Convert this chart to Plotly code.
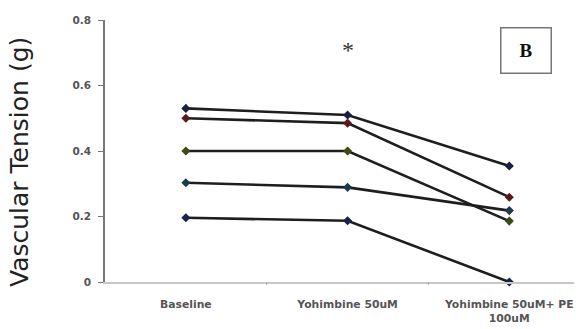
import plotly.graph_objects as go

categories = ["Baseline", "Yohimbine 50uM", "Yohimbine 50uM+ PE<br>100uM"]
series_values = [
    [0.530, 0.510, 0.354],
    [0.500, 0.485, 0.259],
    [0.400, 0.400, 0.186],
    [0.303, 0.289, 0.218],
    [0.196, 0.187, 0.000],
]
marker_colors = ["#1a2140", "#5a1a1a", "#3d4a14", "#1c3a48", "#18224a"]
y_ticks = [0, 0.2, 0.4, 0.6, 0.8]
y_tick_text = ["0", "0.2", "0.4", "0.6", "0.8"]

FONT = "DejaVu Sans, Liberation Sans, sans-serif"

fig = go.Figure()
for vals, col in zip(series_values, marker_colors):
    fig.add_trace(go.Scatter(
        x=list(range(len(categories))), y=vals, mode="lines+markers",
        line=dict(color="#1e1e1e", width=2.6),
        marker=dict(symbol="diamond", size=7, color=col, line=dict(width=0)),
        showlegend=False, cliponaxis=False,
    ))

fig.update_layout(
    width=576, height=329,
    margin=dict(l=105, r=2, t=20, b=47),
    paper_bgcolor="white", plot_bgcolor="white",
    font=dict(family=FONT, color="#444"),
    xaxis=dict(
        range=[-0.5, 2.4], tickmode="array", tickvals=[0, 1, 2], ticktext=categories,
        ticks="outside", ticklen=11, tickcolor="rgba(0,0,0,0)",
        ticklabeloverflow="allow", automargin=False,
        showgrid=False, zeroline=False,
        showline=True, linecolor="#c8c8c8", linewidth=2,
        tickfont=dict(size=10.8, color="#555", family=FONT, weight="bold"),
    ),
    yaxis=dict(
        range=[0, 0.8], tickmode="array", tickvals=y_ticks, ticktext=y_tick_text,
        ticks="outside", ticklen=5, tickcolor="#777", tickwidth=1.2,
        ticklabelstandoff=5, automargin=False,
        showgrid=False, zeroline=False,
        showline=True, linecolor="#777", linewidth=1.5,
        tickfont=dict(size=10.5, color="#555", family=FONT, weight="bold"),
    ),
)

# boundary tick marks between categories on the x axis
for xb in [0.5, 1.5]:
    fig.add_shape(type="line", xref="x", yref="paper", x0=xb, x1=xb, y0=0, y1=-0.012,
                  line=dict(color="#aaa", width=1))

fig.add_annotation(
    text="Vascular Tension (g)", xref="paper", yref="paper",
    x=(19 - 105) / 469, y=(282 - 162) / 262, textangle=-90, showarrow=False,
    font=dict(size=25, color="#222", family=FONT),
    xanchor="center", yanchor="middle",
)
fig.add_annotation(
    text="*", xref="x", yref="paper", x=1, y=(282 - 50) / 262, showarrow=False,
    font=dict(size=24, color="#333", family="Liberation Serif, serif"),
    xanchor="center", yanchor="middle",
)
fig.add_annotation(
    text="<b>B</b>", xref="paper", yref="paper",
    x=(526 - 105) / 469, y=(282 - 50.5) / 262, showarrow=False,
    font=dict(size=19, color="#111", family="Liberation Serif, serif"),
    bordercolor="#777", borderwidth=1.5, borderpad=0,
    width=49, height=44, xanchor="center", yanchor="middle",
)

fig.write_html("out.html")
